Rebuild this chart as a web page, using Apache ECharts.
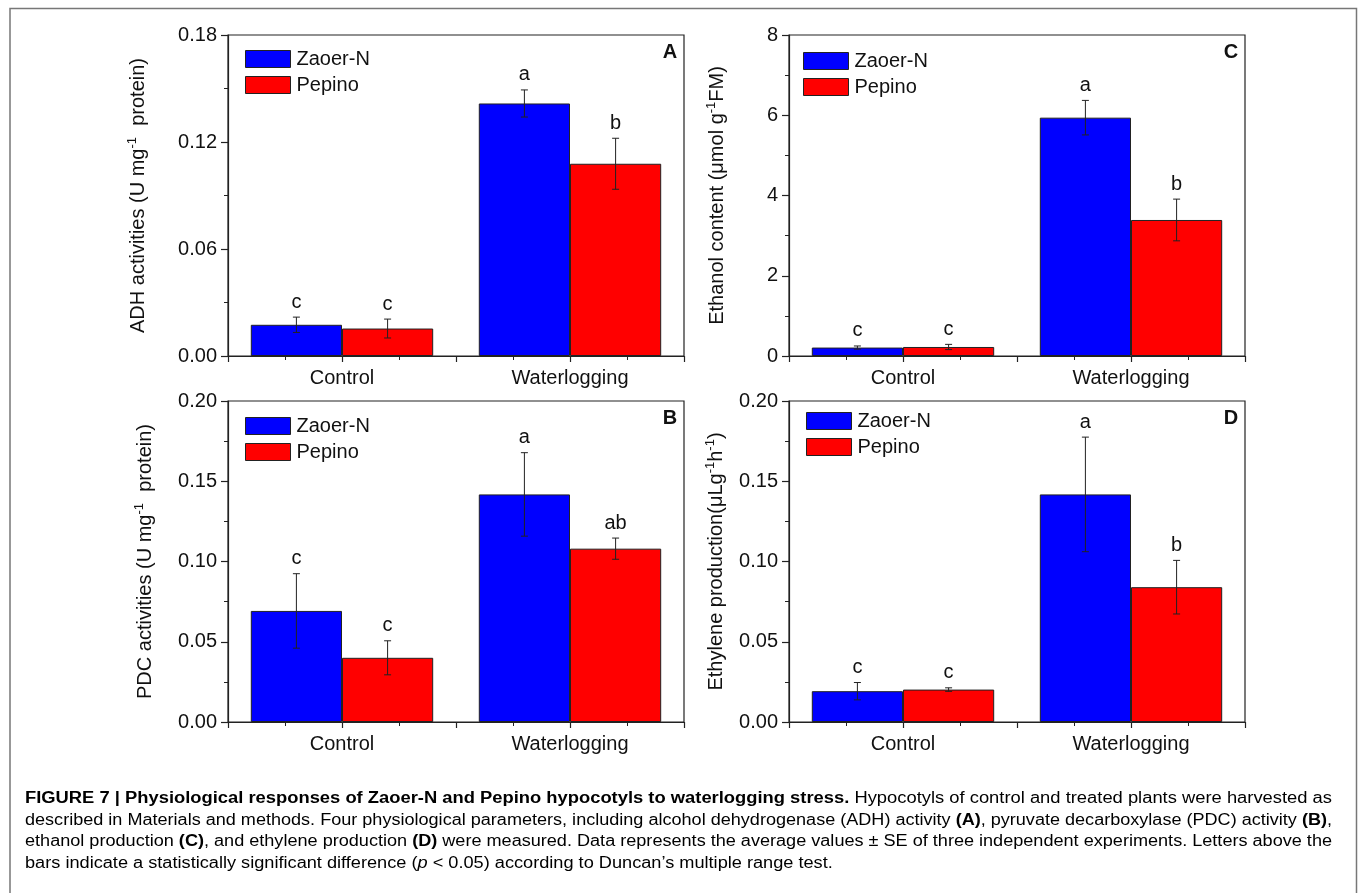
<!DOCTYPE html>
<html>
<head>
<meta charset="utf-8">
<script src="https://cdn.jsdelivr.net/npm/echarts@6/dist/echarts.min.js"></script>
<style>
html,body{margin:0;padding:0;background:#fff;}
#chart{width:1362px;height:893px;}
</style>
</head>
<body>
<div id="chart"></div>
<script>
// ---------------- DATA ----------------
const categories = ['Control', 'Waterlogging'];
const seriesNames = ['Zaoer-N', 'Pepino'];

// Panel A: ADH activities
const adhZaoer = [0.0175, 0.1416];
const adhZaoerErr = [0.0043, 0.0076];
const adhPepino = [0.0154, 0.1078];
const adhPepinoErr = [0.0053, 0.0143];
const adhZaoerLetters = ['c', 'a'];
const adhPepinoLetters = ['c', 'b'];
const adhTicks = [0, 0.06, 0.12, 0.18];

// Panel B: PDC activities
const pdcZaoer = [0.0692, 0.1418];
const pdcZaoerErr = [0.0232, 0.0260];
const pdcPepino = [0.0400, 0.1080];
const pdcPepinoErr = [0.0106, 0.0066];
const pdcZaoerLetters = ['c', 'a'];
const pdcPepinoLetters = ['c', 'ab'];
const pdcTicks = [0, 0.05, 0.10, 0.15, 0.20];

// Panel C: Ethanol content
const ethZaoer = [0.21, 5.94];
const ethZaoerErr = [0.04, 0.43];
const ethPepino = [0.225, 3.39];
const ethPepinoErr = [0.065, 0.52];
const ethZaoerLetters = ['c', 'a'];
const ethPepinoLetters = ['c', 'b'];
const ethTicks = [0, 2, 4, 6, 8];

// Panel D: Ethylene production
const etyZaoer = [0.0192, 0.1418];
const etyZaoerErr = [0.0054, 0.0357];
const etyPepino = [0.0202, 0.0840];
const etyPepinoErr = [0.0011, 0.0167];
const etyZaoerLetters = ['c', 'a'];
const etyPepinoLetters = ['c', 'b'];
const etyTicks = [0, 0.05, 0.10, 0.15, 0.20];

// Caption lines (segments: [text, style])
const captionLines = [
  [['FIGURE 7 | Physiological responses of Zaoer-N and Pepino hypocotyls to waterlogging stress.', 'b'], [' Hypocotyls of control and treated plants were harvested as', 'n']],
  [['described in Materials and methods. Four physiological parameters, including alcohol dehydrogenase (ADH) activity ', 'n'], ['(A)', 'b'], [', pyruvate decarboxylase (PDC) activity ', 'n'], ['(B)', 'b'], [',', 'n']],
  [['ethanol production ', 'n'], ['(C)', 'b'], [', and ethylene production ', 'n'], ['(D)', 'b'], [' were measured. Data represents the average values \u00b1 SE of three independent experiments. Letters above the', 'n']],
  [['bars indicate a statistically significant difference (', 'n'], ['p', 'i'], [' < 0.05) according to Duncan\u2019s multiple range test.', 'n']]
];

// ---------------- LAYOUT ----------------
const FONT = '"Liberation Sans", Arial, Helvetica, sans-serif';
const FS = 20;
const GW = 456, GH = 321;
const panels = [
  { letter: 'A', z: adhZaoer, zE: adhZaoerErr, p: adhPepino, pE: adhPepinoErr, zL: adhZaoerLetters, pL: adhPepinoLetters, ticks: adhTicks, dec: 2,
    name: '{n|ADH activities (U mg}{s|-1}{n|  protein)}', left: 228, top: 35, legLeft: 240, legTop: 44, nameGap: 78 },
  { letter: 'C', z: ethZaoer, zE: ethZaoerErr, p: ethPepino, pE: ethPepinoErr, zL: ethZaoerLetters, pL: ethPepinoLetters, ticks: ethTicks, dec: 0,
    name: '{n|Ethanol content (\u03bcmol g}{s|-1}{n|FM)}', left: 789, top: 35, legLeft: 798, legTop: 46, nameGap: 60 },
  { letter: 'B', z: pdcZaoer, zE: pdcZaoerErr, p: pdcPepino, pE: pdcPepinoErr, zL: pdcZaoerLetters, pL: pdcPepinoLetters, ticks: pdcTicks, dec: 2,
    name: '{n|PDC activities (U mg}{s|-1}{n|  protein)}', left: 228, top: 401, legLeft: 240, legTop: 411, nameGap: 71 },
  { letter: 'D', z: etyZaoer, zE: etyZaoerErr, p: etyPepino, pE: etyPepinoErr, zL: etyZaoerLetters, pL: etyPepinoLetters, ticks: etyTicks, dec: 2,
    name: '{n|Ethylene production(\u03bcLg}{s|-1}{n|h}{s|-1}{n|)}', left: 789, top: 401, legLeft: 801, legTop: 406, nameGap: 61 }
];

const grid = [], xAxis = [], yAxis = [], series = [], legend = [], graphic = [];

function errSeries(pi, means, errs, letters, side) {
  return {
    type: 'custom', xAxisIndex: pi * 2, yAxisIndex: pi, z: 5, silent: true,
    data: means.map((m, i) => [i, m, errs[i]]),
    encode: { x: 0, y: 1 },
    renderItem: function (params, api) {
      const i = api.value(0), m = api.value(1), e = api.value(2);
      const band = api.size([1, 0])[0];
      const cx = api.coord([i, m])[0] + side * 0.2 * band;
      const yT = api.coord([i, m + e])[1];
      const yB = api.coord([i, m - e])[1];
      const cap = 3.5;
      const st = { stroke: '#222', lineWidth: 1 };
      return { type: 'group', children: [
        { type: 'line', shape: { x1: cx, y1: yT, x2: cx, y2: yB }, style: st },
        { type: 'line', shape: { x1: cx - cap, y1: yT, x2: cx + cap, y2: yT }, style: st },
        { type: 'line', shape: { x1: cx - cap, y1: yB, x2: cx + cap, y2: yB }, style: st },
        { type: 'text', x: cx, y: yT - 5, style: { text: letters[params.dataIndex], font: FS + 'px ' + FONT, fill: '#111', align: 'center', verticalAlign: 'bottom' } }
      ] };
    }
  };
}

panels.forEach((P, pi) => {
  grid.push({ left: P.left, top: P.top, width: GW, height: GH, show: true, borderColor: '#222', borderWidth: 1.2, backgroundColor: 'transparent' });
  xAxis.push({
    type: 'category', gridIndex: pi, data: categories,
    axisLine: { show: true, lineStyle: { color: '#222', width: 1.2 } },
    axisTick: { show: false },
    axisLabel: { fontSize: FS, fontFamily: FONT, color: '#111', margin: 12 },
    splitLine: { show: false }
  });
  xAxis.push({
    type: 'value', gridIndex: pi, min: 0.5, max: 2.5, interval: 0.5, position: 'bottom',
    axisLine: { show: false },
    axisTick: { show: true, inside: false, length: 6, lineStyle: { color: '#222', width: 1.2 } },
    minorTick: { show: true, splitNumber: 2, length: 4, lineStyle: { color: '#222', width: 1 } },
    axisLabel: { show: false }, splitLine: { show: false }, minorSplitLine: { show: false }
  });
  const t = P.ticks;
  yAxis.push({
    type: 'value', gridIndex: pi, min: t[0], max: t[t.length - 1], interval: t[1] - t[0],
    axisLine: { show: true, lineStyle: { color: '#222', width: 1.2 } },
    axisTick: { show: true, inside: false, length: 7, lineStyle: { color: '#222', width: 1.2 } },
    minorTick: { show: true, splitNumber: 2, length: 4, lineStyle: { color: '#222', width: 1 } },
    splitLine: { show: false },
    axisLabel: { fontSize: FS, fontFamily: FONT, color: '#111', margin: 11, formatter: v => v.toFixed(P.dec) },
    name: P.name, nameLocation: 'middle', nameRotate: 90, nameGap: P.nameGap,
    nameTextStyle: { rich: {
      n: { fontSize: FS, fontFamily: FONT, color: '#111', lineHeight: 24 },
      s: { fontSize: 13, fontFamily: FONT, color: '#111', verticalAlign: 'top', lineHeight: 13 }
    } }
  });
  series.push({
    name: seriesNames[0], type: 'bar', xAxisIndex: pi * 2, yAxisIndex: pi, data: P.z,
    barWidth: '40%', barGap: '0%',
    itemStyle: { color: '#0000ff', borderColor: '#222', borderWidth: 1 }, silent: true
  });
  series.push({
    name: seriesNames[1], type: 'bar', xAxisIndex: pi * 2, yAxisIndex: pi, data: P.p,
    barWidth: '40%', barGap: '0%',
    itemStyle: { color: '#ff0000', borderColor: '#222', borderWidth: 1 }, silent: true
  });
  series.push(errSeries(pi, P.z, P.zE, P.zL, -1));
  series.push(errSeries(pi, P.p, P.pE, P.pL, 1));
  legend.push({
    data: seriesNames, orient: 'vertical', left: P.legLeft, top: P.legTop,
    itemWidth: 45, itemHeight: 17, itemGap: 6, icon: 'rect', selectedMode: false,
    itemStyle: { borderColor: '#222', borderWidth: 1 },
    textStyle: { fontSize: FS, fontFamily: FONT, color: '#111', padding: [0, 0, 0, 1] }
  });
  graphic.push({
    type: 'text', x: P.left + GW - 14, y: P.top + 17,
    style: { text: P.letter, font: 'bold ' + FS + 'px ' + FONT, fill: '#111', align: 'center', verticalAlign: 'middle' }
  });
});

// Outer frame
graphic.push({ type: 'polyline', shape: { points: [[10, 893], [10, 8.5], [1356.5, 8.5], [1356.5, 893]] }, style: { stroke: '#777', lineWidth: 1.5, fill: null } });

// Caption
const capSize = 16;
const fonts = {
  n: capSize + 'px ' + FONT,
  b: 'bold ' + capSize + 'px ' + FONT,
  i: 'italic ' + capSize + 'px ' + FONT
};
const mctx = document.createElement('canvas').getContext('2d');
function lineWidth(segs) {
  let w = 0;
  segs.forEach(s => { mctx.font = fonts[s[1]]; w += mctx.measureText(s[0]).width; });
  return w;
}
const capLeft = 25, capRight = 1332, capY = [799, 820.5, 842, 863.5];
const scales = captionLines.slice(0, 3).map(l => (capRight - capLeft) / lineWidth(l));
const avgScale = scales.reduce((a, b) => a + b, 0) / scales.length;
captionLines.forEach((segs, li) => {
  const text = segs.map(s => '{' + s[1] + '|' + s[0] + '}').join('');
  graphic.push({
    type: 'text', x: capLeft, y: capY[li], scaleX: li < 3 ? scales[li] : avgScale,
    style: {
      text: text, align: 'left', verticalAlign: 'middle',
      rich: {
        n: { fontSize: capSize, fontFamily: FONT, color: '#3a3a3a' },
        b: { fontSize: capSize, fontFamily: FONT, fontWeight: 'bold', color: '#111' },
        i: { fontSize: capSize, fontFamily: FONT, fontStyle: 'italic', color: '#3a3a3a' }
      }
    }
  });
});

const chart = echarts.init(document.getElementById('chart'), null, { renderer: 'canvas' });
chart.setOption({
  backgroundColor: '#fff',
  animation: false,
  grid: grid, xAxis: xAxis, yAxis: yAxis, series: series, legend: legend, graphic: graphic
});
</script>
</body>
</html>
